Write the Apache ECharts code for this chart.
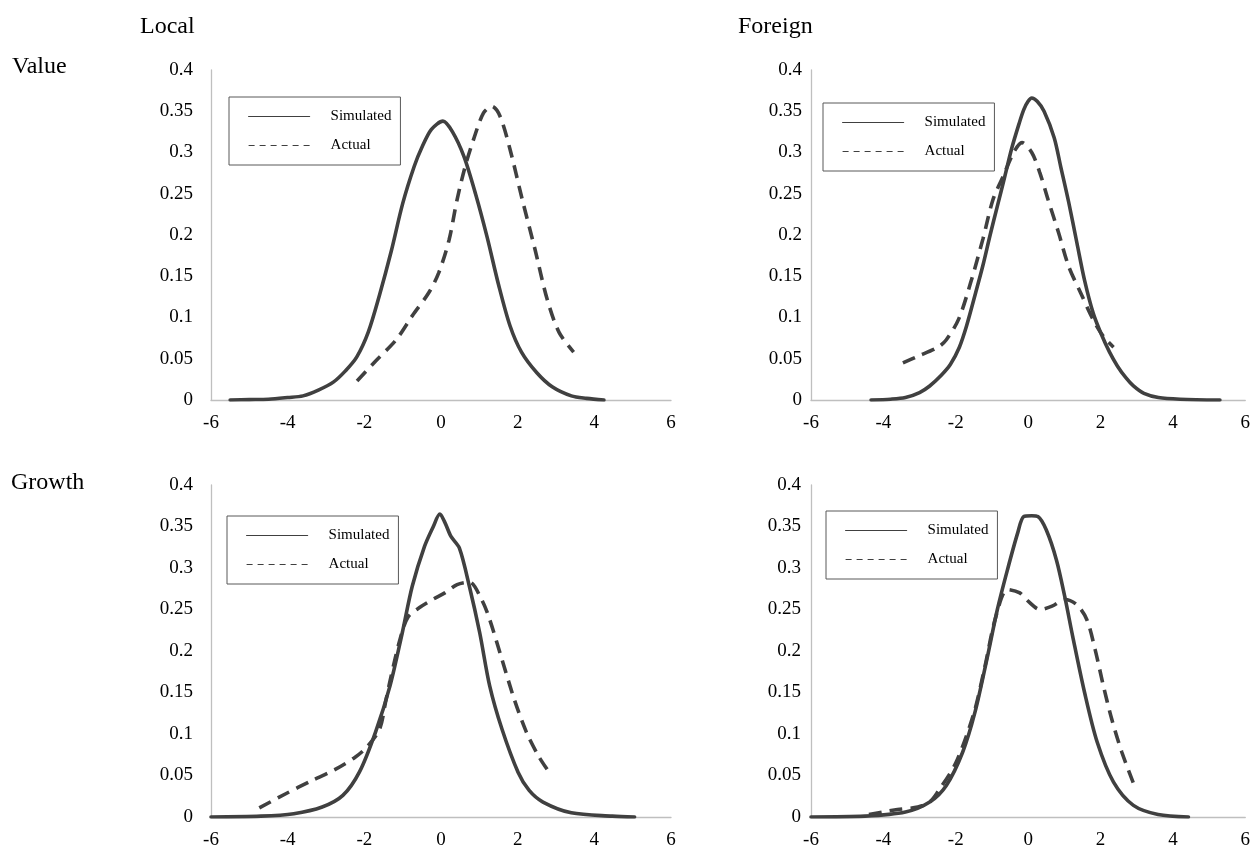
<!DOCTYPE html>
<html>
<head>
<meta charset="utf-8">
<script src="https://cdn.jsdelivr.net/npm/echarts@6/dist/echarts.min.js"></script>
<style>
html,body{margin:0;padding:0;background:#fff;}
#chart{width:1253px;height:850px;}
</style>
</head>
<body>
<div id="chart"></div>
<script>
// ---- Data (x = standardized value, y = density) ----
const xTicks = [-6, -4, -2, 0, 2, 4, 6];
const yTicks = [0, 0.05, 0.1, 0.15, 0.2, 0.25, 0.3, 0.35, 0.4];
const columnTitles = ['Local', 'Foreign'];
const rowTitles = ['Value', 'Growth'];
const seriesNames = ['Simulated', 'Actual'];

const localValueSim = [[-5.5,0],[-5,0.0005],[-4.5,0.001],[-4,0.003],[-3.6,0.005],[-3.2,0.012],[-2.8,0.022],[-2.5,0.035],[-2.2,0.052],[-1.9,0.082],[-1.6,0.128],[-1.3,0.18],[-1.0,0.238],[-0.7,0.283],[-0.5,0.306],[-0.25,0.328],[0.05,0.338],[0.3,0.325],[0.6,0.295],[0.9,0.25],[1.2,0.198],[1.5,0.14],[1.8,0.09],[2.1,0.058],[2.5,0.033],[2.9,0.016],[3.4,0.005],[3.8,0.002],[4.25,0]];
const localValueAct = [[-2.19,0.023],[-1.71,0.047],[-1.17,0.073],[-0.75,0.102],[-0.32,0.130],[-0.06,0.154],[0.21,0.194],[0.42,0.243],[0.63,0.283],[0.85,0.316],[1.11,0.348],[1.33,0.356],[1.54,0.344],[1.80,0.304],[2.12,0.243],[2.45,0.183],[2.77,0.122],[3.08,0.082],[3.46,0.058]];

const foreignValueSim = [[-4.34,0],[-3.8,0.001],[-3.39,0.003],[-3.0,0.009],[-2.72,0.017],[-2.4,0.03],[-2.15,0.043],[-1.9,0.064],[-1.7,0.09],[-1.45,0.13],[-1.25,0.163],[-1.05,0.2],[-0.85,0.235],[-0.65,0.27],[-0.46,0.304],[-0.25,0.335],[-0.12,0.352],[0.0,0.362],[0.1,0.366],[0.25,0.362],[0.44,0.35],[0.72,0.318],[0.9,0.283],[1.12,0.24],[1.35,0.19],[1.56,0.145],[1.8,0.105],[2.02,0.08],[2.25,0.058],[2.47,0.041],[2.7,0.027],[2.91,0.017],[3.2,0.008],[3.6,0.003],[4.2,0.001],[5.3,0]];
const foreignValueAct = [[-3.46,0.045],[-3.05,0.053],[-2.49,0.064],[-2.26,0.073],[-1.92,0.098],[-1.59,0.142],[-1.25,0.195],[-0.97,0.243],[-0.68,0.272],[-0.40,0.300],[-0.17,0.312],[0.10,0.300],[0.32,0.276],[0.55,0.243],[0.84,0.203],[1.12,0.162],[1.45,0.130],[1.79,0.098],[2.08,0.077],[2.36,0.064]];

const localGrowthSim = [[-6,0],[-4.7,0.001],[-3.84,0.004],[-3.1,0.012],[-2.56,0.026],[-2.13,0.054],[-1.71,0.102],[-1.33,0.158],[-1.01,0.222],[-0.75,0.278],[-0.43,0.326],[-0.2,0.35],[-0.03,0.365],[0.1,0.355],[0.26,0.338],[0.48,0.324],[0.74,0.278],[1.01,0.222],[1.27,0.158],[1.59,0.106],[2.01,0.054],[2.3,0.032],[2.66,0.018],[3.4,0.005],[4.47,0.001],[5.05,0]];
const localGrowthAct = [[-4.74,0.011],[-4.05,0.028],[-3.41,0.043],[-2.77,0.057],[-2.24,0.072],[-1.92,0.085],[-1.60,0.106],[-1.44,0.14],[-1.3,0.17],[-1.07,0.214],[-0.86,0.241],[-0.54,0.253],[-0.22,0.262],[0.10,0.270],[0.42,0.280],[0.74,0.283],[1.06,0.262],[1.27,0.238],[1.59,0.190],[1.91,0.142],[2.23,0.102],[2.55,0.073],[2.82,0.054]];

const foreignGrowthSim = [[-6,0],[-4.51,0.001],[-3.39,0.006],[-2.72,0.018],[-2.26,0.038],[-1.81,0.078],[-1.47,0.126],[-1.14,0.19],[-0.85,0.25],[-0.57,0.298],[-0.29,0.342],[-0.12,0.362],[0.10,0.363],[0.27,0.362],[0.50,0.346],[0.78,0.310],[1.01,0.266],[1.23,0.218],[1.56,0.150],[1.91,0.090],[2.36,0.042],[2.91,0.014],[3.59,0.003],[4.43,0]];
const foreignGrowthAct = [[-4.40,0.003],[-3.61,0.009],[-3.05,0.012],[-2.72,0.018],[-2.5,0.03],[-2.0,0.065],[-1.5,0.125],[-1.2,0.18],[-0.9,0.24],[-0.57,0.274],[-0.23,0.27],[0.0,0.26],[0.33,0.25],[0.66,0.254],[1.01,0.262],[1.34,0.256],[1.62,0.238],[1.85,0.202],[2.08,0.158],[2.31,0.118],[2.59,0.078],[2.97,0.034]];

const panels = [
  { sim: localValueSim, act: localValueAct },
  { sim: foreignValueSim, act: foreignValueAct },
  { sim: localGrowthSim, act: localGrowthAct },
  { sim: foreignGrowthSim, act: foreignGrowthAct }
];

// ---- Layout ----
const FONT = '"Liberation Serif", "Times New Roman", serif';
const LINE = '#404040';
const gridBoxes = [
  { left: 211, top: 70, width: 460, height: 330, labelMargin: 18 },
  { left: 811, top: 70, width: 435, height: 330, labelMargin: 9 },
  { left: 211, top: 485, width: 460, height: 333, labelMargin: 18 },
  { left: 811, top: 485, width: 435, height: 333, labelMargin: 10 }
];
const legendBoxes = [
  { left: 229, top: 97 },
  { left: 823, top: 103 },
  { left: 227, top: 516 },
  { left: 826, top: 511 }
];

const hiddenSymbol = { color: 'rgba(0,0,0,0)', borderColor: 'rgba(0,0,0,0)', borderWidth: 0, opacity: 0 };

const option = {
  backgroundColor: '#ffffff',
  animation: false,
  title: [
    { text: columnTitles[0], left: 140, top: 15 },
    { text: columnTitles[1], left: 738, top: 15 },
    { text: rowTitles[0], left: 12, top: 55 },
    { text: rowTitles[1], left: 11, top: 471 }
  ].map(t => Object.assign(t, { padding: 0, textStyle: { fontFamily: FONT, fontSize: 24, fontWeight: 'normal', color: '#000' } })),
  grid: gridBoxes.map(g => ({ left: g.left, top: g.top, width: g.width, height: g.height, containLabel: false })),
  xAxis: gridBoxes.map((g, i) => ({
    type: 'value', gridIndex: i, min: xTicks[0], max: xTicks[xTicks.length - 1], interval: 2,
    axisLine: { show: true, onZero: false, lineStyle: { color: '#bfbfbf', width: 1.3 } },
    axisTick: { show: false },
    splitLine: { show: false },
    axisLabel: { fontFamily: FONT, fontSize: 19, color: '#000', margin: 14 }
  })),
  yAxis: gridBoxes.map((g, i) => ({
    type: 'value', gridIndex: i, min: yTicks[0], max: yTicks[yTicks.length - 1], interval: 0.05,
    axisLine: { show: true, onZero: false, lineStyle: { color: '#bfbfbf', width: 1.3 } },
    axisTick: { show: false },
    splitLine: { show: false },
    axisLabel: { fontFamily: FONT, fontSize: 19, color: '#000', margin: g.labelMargin,
      formatter: v => String(parseFloat(v.toFixed(2))) }
  })),
  legend: legendBoxes.map((b, i) => ({
    orient: 'vertical', left: b.left, top: b.top,
    padding: [12, 9, 12, 19],
    itemWidth: 61, itemHeight: 14, itemGap: 14,
    borderColor: '#595959', borderWidth: 1,
    selectedMode: false,
    textStyle: { fontFamily: FONT, fontSize: 15, color: '#000', padding: [0, 0, 0, 16] },
    data: [
      { name: seriesNames[0], itemStyle: hiddenSymbol, lineStyle: { width: 1.2, type: 'solid', color: '#404040' } },
      { name: seriesNames[1], itemStyle: hiddenSymbol, lineStyle: { width: 1.2, type: [6, 5], color: '#404040' } }
    ]
  })),
  series: []
};

panels.forEach((p, i) => {
  option.series.push({
    name: seriesNames[0], type: 'line', xAxisIndex: i, yAxisIndex: i,
    data: p.sim, symbol: 'none', smooth: 0.3,
    lineStyle: { color: LINE, width: 3.6, type: 'solid', cap: 'round', join: 'round' },
    itemStyle: { color: LINE }, z: 3
  });
  option.series.push({
    name: seriesNames[1], type: 'line', xAxisIndex: i, yAxisIndex: i,
    data: p.act, symbol: 'none', smooth: 0.3,
    lineStyle: { color: LINE, width: 3.6, type: [13, 8], cap: 'butt' },
    itemStyle: { color: LINE }, z: 2
  });
});

const chart = echarts.init(document.getElementById('chart'), null, { renderer: 'canvas' });
chart.setOption(option);
</script>
</body>
</html>
